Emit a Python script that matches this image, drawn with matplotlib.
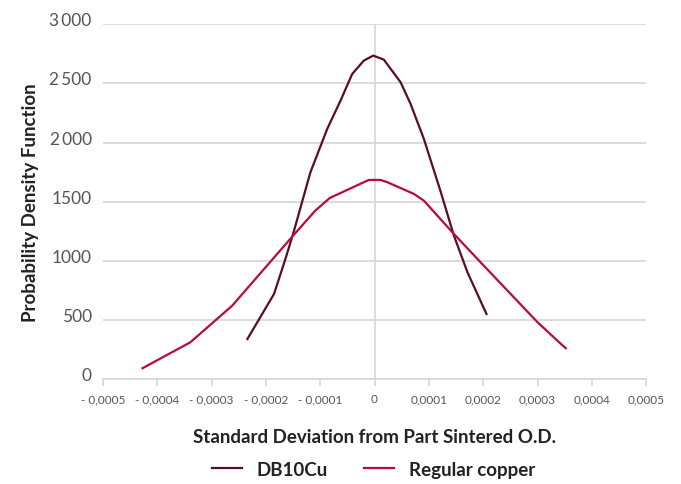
import numpy as np
import matplotlib
matplotlib.use("Agg")
import matplotlib.pyplot as plt
from matplotlib.transforms import ScaledTranslation

plt.rcParams['font.family'] = ['Lato', 'DejaVu Sans']

# --- datos ---
db10_x = [-0.000234, -0.000185, -0.000164, -0.000149, -0.000118, -0.0000871, -0.0000626,
          -0.0000411, -0.0000197, -0.0000024, 0.0000171, 0.0000479, 0.0000663, 0.0000908,
          0.000122, 0.000146, 0.000171, 0.000206]
db10_y = [342, 722, 1018, 1243, 1750, 2116, 2355, 2580, 2693, 2735, 2701, 2510, 2327, 2031,
          1581, 1215, 905, 553]

reg_x = [-0.000427, -0.000339, -0.000262, -0.000150, -0.000109, -0.0000823, -0.0000105,
         0.000011, 0.0000234, 0.0000724, 0.0000908, 0.000146, 0.000195, 0.0003, 0.000343,
         0.000352]
reg_y = [95, 314, 623, 1214, 1426, 1533, 1685, 1685, 1666, 1567, 1510, 1229, 990, 483, 300, 264]

xticks = [-0.0005, -0.0004, -0.0003, -0.0002, -0.0001, 0, 0.0001, 0.0002, 0.0003, 0.0004, 0.0005]
xlabels = ['- 0,0005', '- 0,0004', '- 0,0003', '- 0,0002', '- 0,0001', '0',
           '0,0001', '0,0002', '0,0003', '0,0004', '0,0005']
yticks = [0, 500, 1000, 1500, 2000, 2500, 3000]
ylabels = ['0', '500', '1000', '1500', '2\u2009000', '2\u2009500', '3\u2009000']

c_db = '#5a0c2c'
c_reg = '#b80a3c'
gris = '#d6d6d6'

fig = plt.figure(figsize=(6.81, 4.85), dpi=100)
ax = fig.add_axes([0.151, 0.2155, 0.798, 0.7325])

ax.plot(db10_x, db10_y, color=c_db, lw=1.6, label='DB10Cu', zorder=3)
ax.plot(reg_x, reg_y, color=c_reg, lw=1.6, label='Regular copper', zorder=3)

ax.set_xlim(-0.0005, 0.0005)
ax.set_ylim(0, 3000)
ax.set_xticks(xticks)
ax.set_xticklabels(xlabels)
ax.set_yticks(yticks)
ax.set_yticklabels(ylabels)

ax.grid(axis='y', color=gris, lw=1.2)
ax.axvline(0, color=gris, lw=1.2, zorder=1)
ax.set_axisbelow(True)

for s in ['top', 'right', 'left']:
    ax.spines[s].set_visible(False)
ax.spines['bottom'].set_color(gris)
ax.spines['bottom'].set_linewidth(1.2)

ax.tick_params(axis='y', length=0, pad=8, labelsize=12.5, labelcolor='#555555')
ax.tick_params(axis='x', length=5, width=1.2, color=gris, pad=5, labelsize=8.5,
               labelcolor='#555555')
for lab in ax.get_yticklabels():
    lab.set_transform(lab.get_transform() + ScaledTranslation(0, 4 / 72, fig.dpi_scale_trans))

ax.set_xlabel('Standard Deviation from Part Sintered O.D.', fontsize=13.5, fontweight='bold',
              color='#222222', labelpad=17)
ax.set_ylabel('Probability Density Function', fontsize=13.5, fontweight='bold',
              color='#222222')
ax.yaxis.set_label_coords(-0.118, 0.5)

leg = fig.legend(loc='center', bbox_to_anchor=(0.548, 0.03), ncol=2, frameon=False,
                 fontsize=13.5, handlelength=1.6, handletextpad=0.8, columnspacing=1.9)
for t in leg.get_texts():
    t.set_fontweight('bold')
    t.set_color('#222222')

fig.savefig('out.png', dpi=100)
